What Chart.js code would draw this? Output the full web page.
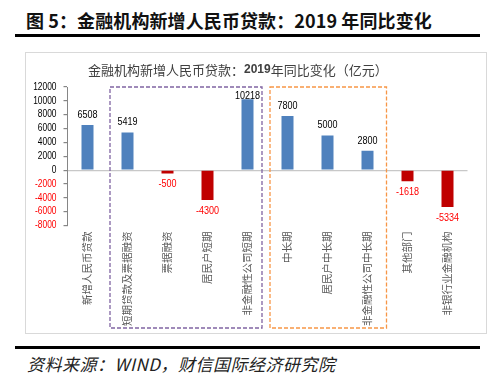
<!DOCTYPE html>
<html><head><meta charset="utf-8">
<script src="https://cdn.jsdelivr.net/npm/chart.js@4/dist/chart.umd.min.js"></script>
<style>
html,body{margin:0;padding:0;background:#fff;width:500px;height:376px;overflow:hidden;position:relative;font-family:"Noto Sans CJK SC",sans-serif;}
#title{position:absolute;left:26px;top:7px;font-size:18px;font-weight:bold;color:#111;white-space:nowrap;letter-spacing:0.1px;}
.rule{position:absolute;left:15px;width:465px;height:3px;background:#000;}
#box{position:absolute;left:25px;top:52px;width:462px;height:282px;border:1px solid #D9D9D9;box-sizing:border-box;}
#wrap{position:absolute;left:25px;top:52px;width:462px;height:282px;}
#src{position:absolute;left:27px;top:351px;font-size:17px;font-style:italic;color:#222;white-space:nowrap;letter-spacing:0.5px;}
</style></head>
<body>
<div id="title">图 5：金融机构新增人民币贷款：2019 年同比变化</div>
<div class="rule" style="top:34px;"></div>
<div id="box"></div>
<div id="wrap"><canvas id="c" width="462" height="282"></canvas></div>
<div class="rule" style="top:346px;"></div>
<div id="src">资料来源：WIND，财信国际经济研究院</div>
<script>
const categories = ['新增人民币贷款','短期贷款及票据融资','票据融资','居民户短期','非金融性公司短期','中长期','居民户中长期','非金融性公司中长期','其他部门','非银行业金融机构'];
const values = [6508, 5419, -500, -4300, 10218, 7800, 5000, 2800, -1618, -5334];
const yMin = -8000, yMax = 12000, yStep = 2000;
const groups = [
  {from: 1, to: 4, color: '#8064A2', padL: 2.5, padR: 5.5},
  {from: 5, to: 7, color: '#F79646', padL: 2.5, padR: 1}
];
const chartTitleParts = [
  {text: '金融机构新增人民币贷款：', font: '13px "Noto Sans CJK SC"'},
  {text: '2019', font: 'bold 12px "Liberation Sans"'},
  {text: '年同比变化（亿元）', font: '13px "Noto Sans CJK SC"'}
];

const posColor = '#4F81BD', negColor = '#C00000', negText = '#FF0000';
const NUM_FONT = '"Liberation Sans", Arial, sans-serif';

function narrowText(ctx, text, x, y, sx, align) {
  ctx.save();
  ctx.translate(x, y);
  ctx.scale(sx, 1);
  ctx.textAlign = align;
  ctx.fillText(text, 0, 0);
  ctx.restore();
}

const titlePlugin = {
  id: 'ctitle',
  afterDraw(chart) {
    const ctx = chart.ctx;
    ctx.save();
    ctx.fillStyle = '#404040';
    ctx.textBaseline = 'middle';
    ctx.textAlign = 'left';
    let x = 63;
    chartTitleParts.forEach(p => {
      ctx.font = p.font;
      ctx.fillText(p.text, x, 18);
      x += ctx.measureText(p.text).width;
    });
    ctx.restore();
  }
};

const yLabelPlugin = {
  id: 'ylabels',
  afterDraw(chart) {
    const ctx = chart.ctx, ys = chart.scales.y;
    ctx.save();
    ctx.font = '10px ' + NUM_FONT;
    ctx.textBaseline = 'middle';
    ys.ticks.forEach(t => {
      ctx.fillStyle = t.value < 0 ? '#FF0000' : '#000';
      narrowText(ctx, String(t.value), ys.right - 11, ys.getPixelForValue(t.value), 0.84, 'right');
    });
    ctx.restore();
  }
};

const boxPlugin = {
  id: 'groupBoxes',
  afterDraw(chart) {
    const ctx = chart.ctx, xs = chart.scales.x, ys = chart.scales.y;
    ctx.save();
    ctx.lineWidth = 1.3;
    ctx.setLineDash([4, 2]);
    groups.forEach(g => {
      const l = xs.getPixelForValue(g.from - 0.5) + g.padL;
      const r = xs.getPixelForValue(g.to + 0.5) - g.padR;
      const t = ys.getPixelForValue(yMax);
      const b = 276;
      ctx.strokeStyle = g.color;
      ctx.strokeRect(l, t, r - l, b - t);
    });
    ctx.restore();
  }
};

const labelPlugin = {
  id: 'vlabels',
  afterDatasetsDraw(chart) {
    const ctx = chart.ctx;
    const meta = chart.getDatasetMeta(0);
    const top = chart.chartArea.top;
    ctx.save();
    ctx.font = '10.5px ' + NUM_FONT;
    ctx.textBaseline = 'middle';
    meta.data.forEach((bar, i) => {
      const v = values[i];
      if (v >= 0) {
        ctx.fillStyle = '#000';
        narrowText(ctx, String(v), bar.x, Math.max(bar.y - 10, top + 9), 0.86, 'center');
      } else {
        ctx.fillStyle = negText;
        narrowText(ctx, String(v), bar.x, bar.y + 11, 0.86, 'center');
      }
    });
    ctx.restore();
  }
};

new Chart(document.getElementById('c'), {
  type: 'bar',
  data: {
    labels: categories,
    datasets: [{
      data: values,
      backgroundColor: values.map(v => v >= 0 ? posColor : negColor),
      barPercentage: 0.3,
      categoryPercentage: 1
    }]
  },
  options: {
    responsive: false,
    animation: false,
    layout: {padding: {top: 35, right: 19.5, left: 0, bottom: 0}},
    plugins: {legend: {display: false}, tooltip: {enabled: false}, title: {display: false}},
    scales: {
      x: {
        grid: {display: false, drawTicks: false},
        border: {display: false},
        afterFit(s) { s.height = 108.5; },
        ticks: {
          autoSkip: false, minRotation: 90, maxRotation: 90, padding: 6,
          color: '#595959',
          font: {family: '"Noto Sans CJK SC"', size: 10.5}
        }
      },
      y: {
        min: yMin, max: yMax,
        afterFit(s) { s.width = 42.5; },
        border: {display: true, color: '#868686', width: 1},
        grid: {
          drawOnChartArea: true,
          color: c => (c.tick && c.tick.value === 0) ? '#C8C8C8' : 'rgba(0,0,0,0)',
          lineWidth: 1.2,
          tickColor: '#868686',
          tickLength: 4
        },
        ticks: {
          stepSize: yStep, autoSkip: false, display: false
        }
      }
    }
  },
  plugins: [titlePlugin, yLabelPlugin, boxPlugin, labelPlugin]
});
</script>
</body></html>
